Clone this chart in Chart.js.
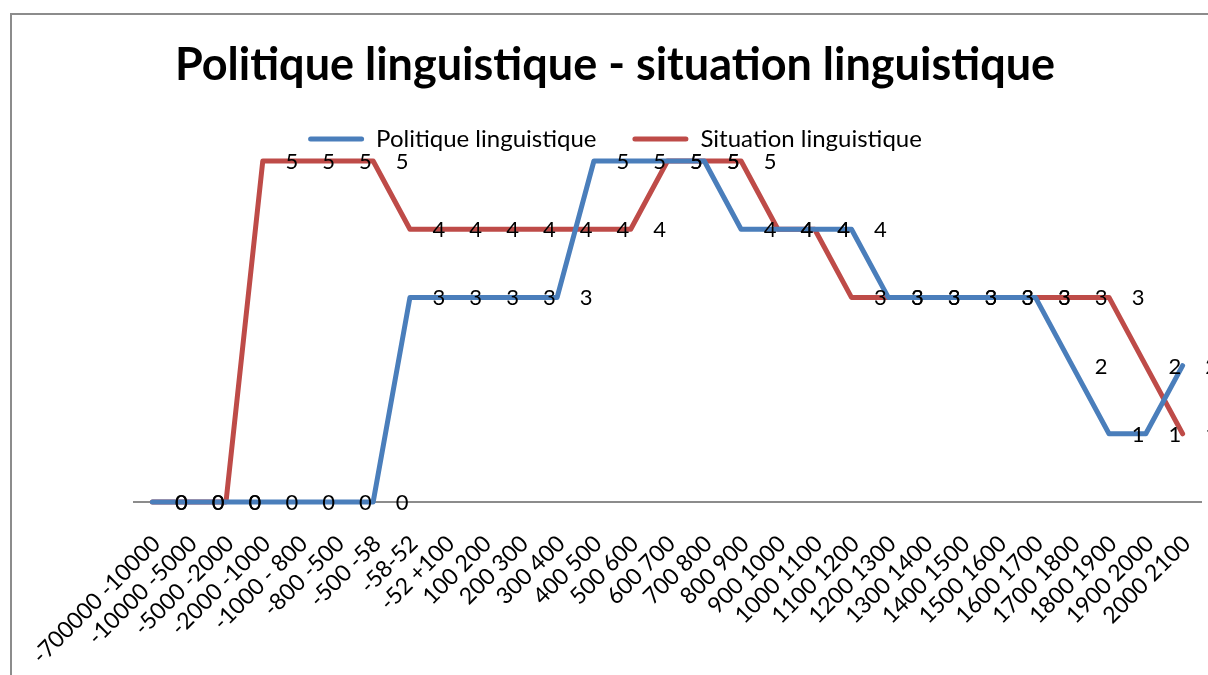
<!DOCTYPE html>
<html>
<head>
<meta charset="utf-8">
<script src="https://cdn.jsdelivr.net/npm/chart.js@4"></script>
<style>
  html, body { margin: 0; padding: 0; background: #fff; overflow: hidden; }
  #cadre { position: absolute; left: 10px; top: 13px; width: 1400px; height: 900px; border: 2px solid #8c8c8c; }
  #graphique { position: absolute; left: 0; top: 0; }
</style>
</head>
<body>
<div id="cadre"></div>
<canvas id="graphique" width="1208" height="675"></canvas>
<script>
// Périodes (axe des abscisses)
const periodes = [
  '-700000 -10000', '-10000 -5000', '-5000 -2000', '-2000 -1000', '-1000 - 800',
  '-800 -500', '-500 -58', '-58-52', '-52 +100', '100 200', '200 300', '300 400',
  '400 500', '500 600', '600 700', '700 800', '800 900', '900 1000', '1000 1100',
  '1100 1200', '1200 1300', '1300 1400', '1400 1500', '1500 1600', '1600 1700',
  '1700 1800', '1800 1900', '1900 2000', '2000 2100'
];

// Valeurs
const politique = [0, 0, 0, 0, 0, 0, 0, 3, 3, 3, 3, 3, 5, 5, 5, 5, 4, 4, 4, 4, 3, 3, 3, 3, 3, 2, 1, 1, 2];
const situation = [0, 0, 0, 5, 5, 5, 5, 4, 4, 4, 4, 4, 4, 4, 5, 5, 5, 4, 4, 3, 3, 3, 3, 3, 3, 3, 3, 2, 1];

const bleu = '#4A7EBB';
const rouge = '#BE4B48';

// étiquettes de données à droite de chaque point
const etiquettes = {
    id: 'etiquettes',
    afterDatasetsDraw(chart) {
        const ctx = chart.ctx;
        ctx.save();
        ctx.font = '22px Lato';
        ctx.fillStyle = '#000';
        ctx.textAlign = 'center';
        ctx.textBaseline = 'middle';
        chart.data.datasets.forEach(function(ds, i) {
            chart.getDatasetMeta(i).data.forEach(function(pt, j) {
                ctx.fillText(String(ds.data[j]), pt.x + 29, pt.y + 1);
            });
        });
        ctx.restore();
    }
};

new Chart(document.getElementById('graphique').getContext('2d'), {
    type: 'line',
    data: {
        labels: periodes,
        datasets: [{
            label: 'Politique linguistique',
            data: politique,
            borderColor: bleu,
            backgroundColor: bleu,
            borderWidth: 5,
            pointRadius: 0,
            borderCapStyle: 'round',
            borderJoinStyle: 'round',
            clip: false
        }, {
            label: 'Situation linguistique',
            data: situation,
            borderColor: rouge,
            backgroundColor: rouge,
            borderWidth: 5,
            pointRadius: 0,
            borderCapStyle: 'round',
            borderJoinStyle: 'round',
            clip: false
        }]
    },
    options: {
        responsive: false,
        animation: false,
        devicePixelRatio: 1,
        layout: { padding: { left: 29, right: 7, top: 0, bottom: 1 } },
        plugins: {
            title: {
                display: true,
                text: 'Politique linguistique - situation linguistique',
                color: '#000',
                font: { family: 'Lato', size: 45, weight: 'bold', lineHeight: 1 },
                padding: { top: 43, bottom: 3 }
            },
            legend: {
                position: 'top',
                labels: {
                    color: '#000',
                    font: { family: 'Lato', size: 24 },
                    boxWidth: 56,
                    boxHeight: 5,
                    useBorderRadius: true,
                    borderRadius: 2.5,
                    padding: 36,
                    generateLabels: function(chart) {
                        return Chart.defaults.plugins.legend.labels.generateLabels(chart).map(function(item) {
                            item.lineWidth = 0;
                            return item;
                        });
                    }
                }
            },
            tooltip: { enabled: false }
        },
        scales: {
            x: {
                offset: true,
                grid: { display: false, drawTicks: false },
                border: { display: true, color: '#8c8c8c', width: 2 },
                ticks: {
                    color: '#000',
                    font: { family: 'Lato', size: 23 },
                    autoSkip: false,
                    minRotation: 45,
                    maxRotation: 45,
                    padding: 28,
                    labelOffset: 4
                },
                afterFit: function(scale) {
                    scale.paddingRight = 0;
                    scale.height = 172;
                }
            },
            y: {
                min: 0,
                max: 5,
                grid: { display: false, drawTicks: false },
                border: { display: false },
                ticks: { display: false },
                afterFit: function(scale) { scale.width = 105; }
            }
        }
    },
    plugins: [etiquettes]
});
</script>
</body>
</html>
